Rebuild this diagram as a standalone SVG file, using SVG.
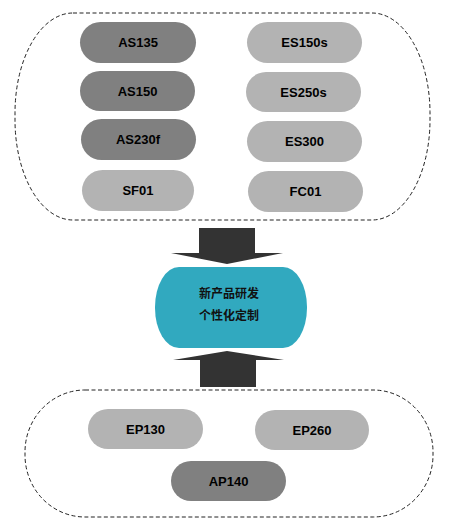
<svg xmlns="http://www.w3.org/2000/svg" width="450" height="530" viewBox="0 0 450 530">
<style>
.grp{fill:none;stroke:#222;stroke-width:1;stroke-dasharray:4 2.5}
.dk{fill:#808080}
.lt{fill:#b3b3b3}
.lbl{font-family:"Liberation Sans",Arial,sans-serif;font-weight:bold;font-size:13px;fill:#000;text-anchor:middle}
.cn{font-family:"Noto Sans CJK SC","Noto Sans",sans-serif;font-weight:bold;font-size:12px;fill:#111;text-anchor:middle}
.arr{fill:#333}
</style>
<rect class="grp" x="15" y="13" width="415" height="207" rx="58" ry="100"/>
<rect class="grp" x="25" y="390" width="408" height="127" rx="60" ry="62"/>
<g id="AS135"><rect class="dk" x="80" y="22" width="116" height="41" rx="20.5"/><text class="lbl" x="138" y="47">AS135</text></g>
<g id="AS150"><rect class="dk" x="80" y="71" width="115" height="40" rx="20"/><text class="lbl" x="137.5" y="96">AS150</text></g>
<g id="AS230f"><rect class="dk" x="81" y="119" width="115" height="41" rx="20.5"/><text class="lbl" x="138" y="144">AS230f</text></g>
<g id="SF01"><rect class="lt" x="82" y="170" width="112" height="41" rx="20.5"/><text class="lbl" x="138" y="195">SF01</text></g>
<g id="ES150s"><rect class="lt" x="247" y="22" width="115" height="41" rx="20.5"/><text class="lbl" x="304.5" y="47">ES150s</text></g>
<g id="ES250s"><rect class="lt" x="246" y="72" width="115" height="40" rx="20"/><text class="lbl" x="303.5" y="97">ES250s</text></g>
<g id="ES300"><rect class="lt" x="247" y="121" width="115" height="41" rx="20.5"/><text class="lbl" x="304.5" y="146">ES300</text></g>
<g id="FC01"><rect class="lt" x="248" y="171" width="115" height="41" rx="20.5"/><text class="lbl" x="305.5" y="196">FC01</text></g>
<g id="EP130"><rect class="lt" x="88" y="409" width="115" height="40" rx="20"/><text class="lbl" x="145.5" y="434">EP130</text></g>
<g id="EP260"><rect class="lt" x="255" y="410" width="114" height="40" rx="20"/><text class="lbl" x="312" y="435">EP260</text></g>
<g id="AP140"><rect class="dk" x="171" y="461" width="115" height="40" rx="20"/><text class="lbl" x="228.5" y="486">AP140</text></g>
<g id="center"><rect x="155" y="267" width="152" height="81" rx="24" ry="40" fill="#31a9bf"/><text class="cn" x="229" y="298">新产品研发</text><text class="cn" x="229" y="320">个性化定制</text></g>
<g id="connectors">
<polygon class="arr" points="199,228 255,228 255,253 283,253 227,264 171,253 199,253"/>
<polygon class="arr" points="227,351 284,360 256,360 256,387 200,387 200,360 173,360"/>
</g>
</svg>
